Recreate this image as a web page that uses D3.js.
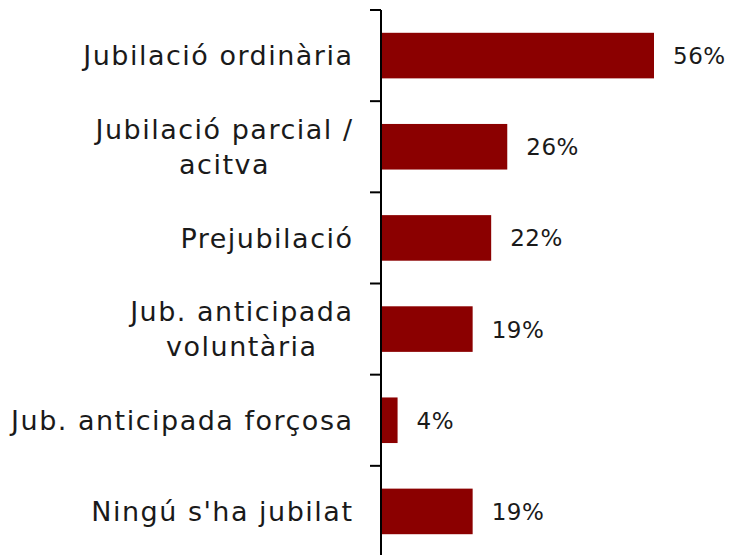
<!DOCTYPE html>
<html>
<head>
<meta charset="utf-8">
<script src="https://cdn.jsdelivr.net/npm/d3@7"></script>
<style>
  html, body { margin: 0; padding: 0; background: #fff; }
  svg { display: block; }
</style>
</head>
<body>
<div id="chart"></div>
<script>
const categories = [
  ["Jubilació ordinària"],
  ["Jubilació parcial /", "acitva"],
  ["Prejubilació"],
  ["Jub. anticipada", "voluntària"],
  ["Jub. anticipada forçosa"],
  ["Ningú s'ha jubilat"]
];
// values; labels as printed
const values = [56, 25.9, 22.6, 18.8, 3.4, 18.8];
const valueLabels = ["56%", "26%", "22%", "19%", "4%", "19%"];

const W = 731, H = 555;
const axisX = 381, plotTop = 10, plotBottom = 557;
const fontFamily = "'DejaVu Sans', sans-serif";
const barColor = "#8B0000";
const textColor = "#1a1a1a";

const svg = d3.select("#chart").append("svg")
  .attr("width", W).attr("height", H);

const y = d3.scaleBand()
  .domain(d3.range(categories.length))
  .range([plotTop, plotBottom])
  .paddingInner(0.5).paddingOuter(0.25);

const x = d3.scaleLinear().domain([0, 56]).range([axisX, 654]);

// bars
svg.selectAll("rect.bar").data(values).join("rect")
  .attr("class", "bar")
  .attr("x", x(0))
  .attr("y", (d, i) => y(i))
  .attr("width", d => x(d) - x(0))
  .attr("height", y.bandwidth())
  .attr("fill", barColor);

// axis line and ticks at band boundaries
const step = y.step();
svg.append("line")
  .attr("x1", axisX).attr("x2", axisX)
  .attr("y1", plotTop).attr("y2", plotBottom)
  .attr("stroke", "#000").attr("stroke-width", 2);
const boundaries = d3.range(categories.length).map(i => plotTop + i * step);
svg.selectAll("line.tick").data(boundaries).join("line")
  .attr("class", "tick")
  .attr("x1", axisX - 11).attr("x2", axisX)
  .attr("y1", d => d).attr("y2", d => d)
  .attr("stroke", "#000").attr("stroke-width", 2);

// category labels
const labelRight = 352;
const lineH = 35;
const fs = 27;
const ls = 1.5;
categories.forEach((lines, i) => {
  const cy = y(i) + y.bandwidth() / 2;
  const g = svg.append("g");
  const texts = lines.map((ln, k) => g.append("text")
    .attr("y", cy + (k - (lines.length - 1) / 2) * lineH)
    .attr("dy", "0.36em")
    .attr("font-family", fontFamily)
    .attr("font-size", fs)
    .attr("letter-spacing", ls)
    .attr("fill", textColor)
    .text(ln));
  const vis = texts.map(t => t.node().getComputedTextLength() - ls);
  const maxW = d3.max(vis);
  texts.forEach((t, k) => {
    t.attr("x", labelRight - maxW + (maxW - vis[k]) / 2);
  });
});

// value labels
svg.selectAll("text.val").data(values).join("text")
  .attr("class", "val")
  .attr("x", d => x(d) + 19)
  .attr("y", (d, i) => y(i) + y.bandwidth() / 2)
  .attr("dy", "0.37em")
  .attr("font-family", fontFamily)
  .attr("font-size", 23)
  .attr("letter-spacing", 0.5)
  .attr("fill", textColor)
  .text((d, i) => valueLabels[i]);
</script>
</body>
</html>
